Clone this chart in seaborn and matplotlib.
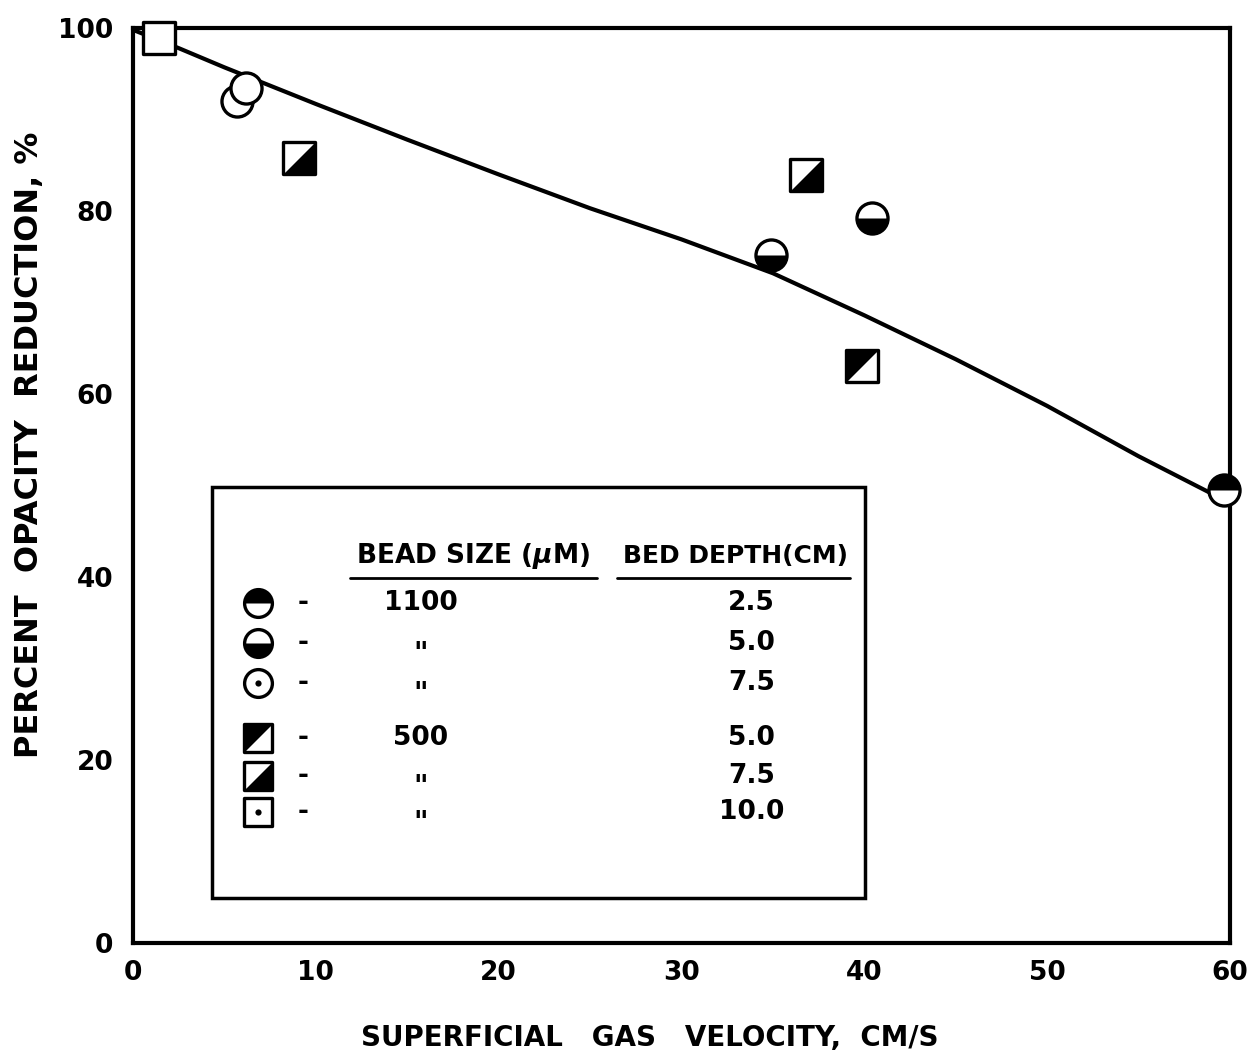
import numpy as np
import matplotlib
matplotlib.use("Agg")
import matplotlib.pyplot as plt
import seaborn as sns
from matplotlib.patches import Rectangle
from matplotlib.lines import Line2D

# %% dados
curva_x = [0, 2.5, 5, 7.5, 10, 15, 20, 25, 30, 35, 40, 45, 50, 55, 59.6]
curva_y = [99.8, 97.8, 95.7, 93.7, 91.7, 87.8, 84.0, 80.3, 76.9, 73.2, 68.6, 63.8, 58.7, 53.2, 48.5]

# grupos: (bead size, bed depth)
c25_x, c25_y = [59.7], [49.5]                 # 1100 / 2.5
c50_x, c50_y = [34.9, 40.4], [75.2, 79.2]     # 1100 / 5.0
c75_x, c75_y = [5.7, 6.2], [92.0, 93.4]       # 1100 / 7.5
q50_x, q50_y = [39.9], [63.1]                 # 500 / 5.0
q75_x, q75_y = [9.1, 36.8], [85.8, 83.9]      # 500 / 7.5
q100_x, q100_y = [1.4], [98.9]                # 500 / 10.0

leg_tipo = ['c25', 'c50', 'c75', 'q50', 'q75', 'q100']
leg_bead = ['1100', '"', '"', '500', '"', '"']
leg_depth = ['2.5', '5.0', '7.5', '5.0', '7.5', '10.0']

x_ticks = [0, 10, 20, 30, 40, 50, 60]
y_ticks = [0, 20, 40, 60, 80, 100]

# %% marcadores personalizados
t = np.linspace(0, np.pi, 60)
meia_cima = np.column_stack([np.cos(t), np.sin(t)])
meia_baixo = np.column_stack([np.cos(t), -np.sin(t)])
tri_sup_esq = np.array([[-1, -1], [-1, 1], [1, 1], [-1, -1]])
tri_inf_dir = np.array([[1, 1], [1, -1], [-1, -1], [1, 1]])

# base (contorno branco) + parte preenchida
estilo = {
    'c25': ('o', meia_cima, False),
    'c50': ('o', meia_baixo, False),
    'c75': ('o', None, True),
    'q50': ('s', tri_sup_esq, False),
    'q75': ('s', tri_inf_dir, False),
    'q100': ('s', None, True),
}

S = 500
LW = 2.4

sns.set_style("white")
plt.rcParams['font.family'] = ['DejaVu Sans']
plt.rcParams['font.weight'] = 'bold'
plt.rcParams['text.color'] = 'black'
plt.rcParams['axes.labelcolor'] = 'black'
plt.rcParams['xtick.color'] = 'black'
plt.rcParams['ytick.color'] = 'black'

fig = plt.figure(figsize=(12.57, 10.61), dpi=100)
ax = fig.add_axes([0.1058, 0.1112, 0.8727, 0.8624])

sns.lineplot(x=curva_x, y=curva_y, ax=ax, color='black', linewidth=3, zorder=2)


def desenha(ax, xs, ys, tipo, ponto=False, **kw):
    base, cheio, dot = estilo[tipo]
    sns.scatterplot(x=xs, y=ys, ax=ax, marker=base, s=S, color='white',
                    edgecolor='black', linewidth=LW, zorder=3, clip_on=False, **kw)
    if cheio is not None:
        sns.scatterplot(x=xs, y=ys, ax=ax, marker=cheio, s=S, color='black',
                        linewidth=0, zorder=4, clip_on=False, **kw)
    if dot and ponto:
        sns.scatterplot(x=xs, y=ys, ax=ax, marker='o', s=22, color='black',
                        linewidth=0, zorder=4, clip_on=False, **kw)


desenha(ax, c25_x, c25_y, 'c25')
desenha(ax, c50_x, c50_y, 'c50')
desenha(ax, c75_x, c75_y, 'c75')
desenha(ax, q50_x, q50_y, 'q50')
desenha(ax, q75_x, q75_y, 'q75')
desenha(ax, q100_x, q100_y, 'q100')

ax.set_xlim(0, 60)
ax.set_ylim(0, 100)
ax.set_xticks(x_ticks)
ax.set_yticks(y_ticks)
ax.set_xticklabels([str(v) for v in x_ticks], fontsize=19, fontweight='bold')
ax.set_yticklabels([str(v) for v in y_ticks], fontsize=19, fontweight='bold')
ax.tick_params(axis='x', direction='in', length=14, width=2, pad=12)
ax.tick_params(axis='y', length=0, pad=14)
for sp in ax.spines.values():
    sp.set_linewidth(3)
    sp.set_color('black')

ax.set_xlabel('SUPERFICIAL   GAS   VELOCITY,  CM/S', fontsize=20, fontweight='bold')
ax.set_ylabel('PERCENT  OPACITY  REDUCTION, %', fontsize=23, fontweight='bold')
ax.xaxis.set_label_coords(0.471, -0.088)
ax.yaxis.set_label_coords(-0.080, 0.544)

# %% caixa de legenda
tr = ax.transAxes
ax.add_patch(Rectangle((0.072, 0.049), 0.595, 0.449, transform=tr, fill=False,
                       edgecolor='black', linewidth=2.5, zorder=5))
ax.text(0.310, 0.423, 'BEAD SIZE ($\\mu$M)', transform=tr, ha='center', va='center',
        fontsize=19, fontweight='bold')
ax.text(0.549, 0.423, 'BED DEPTH(CM)', transform=tr, ha='center', va='center',
        fontsize=18, fontweight='bold')
ax.add_line(Line2D([0.198, 0.423], [0.399, 0.399], transform=tr, color='black', linewidth=2))
ax.add_line(Line2D([0.441, 0.654], [0.399, 0.399], transform=tr, color='black', linewidth=2))

linhas_y = [0.372, 0.328, 0.284, 0.224, 0.183, 0.143]
for yy, tipo, bead, depth in zip(linhas_y, leg_tipo, leg_bead, leg_depth):
    base, cheio, dot = estilo[tipo]
    ax.scatter([0.114], [yy], transform=tr, marker=base, s=S * 0.8, color='white',
               edgecolor='black', linewidth=LW, zorder=6)
    if cheio is not None:
        ax.scatter([0.114], [yy], transform=tr, marker=cheio, s=S * 0.8, color='black',
                   linewidth=0, zorder=7)
    if dot:
        ax.scatter([0.114], [yy], transform=tr, marker='o', s=20, color='black',
                   linewidth=0, zorder=7)
    ax.text(0.155, yy, '-', transform=tr, ha='center', va='center', fontsize=19, fontweight='bold')
    if bead == '"':
        ax.text(0.262, yy - 0.012, bead, transform=tr, ha='center', va='center',
                fontsize=20, fontweight='bold')
    else:
        ax.text(0.262, yy, bead, transform=tr, ha='center', va='center',
                fontsize=19, fontweight='bold')
    ax.text(0.564, yy, depth, transform=tr, ha='center', va='center', fontsize=19, fontweight='bold')

fig.savefig('out.png', dpi=100)
